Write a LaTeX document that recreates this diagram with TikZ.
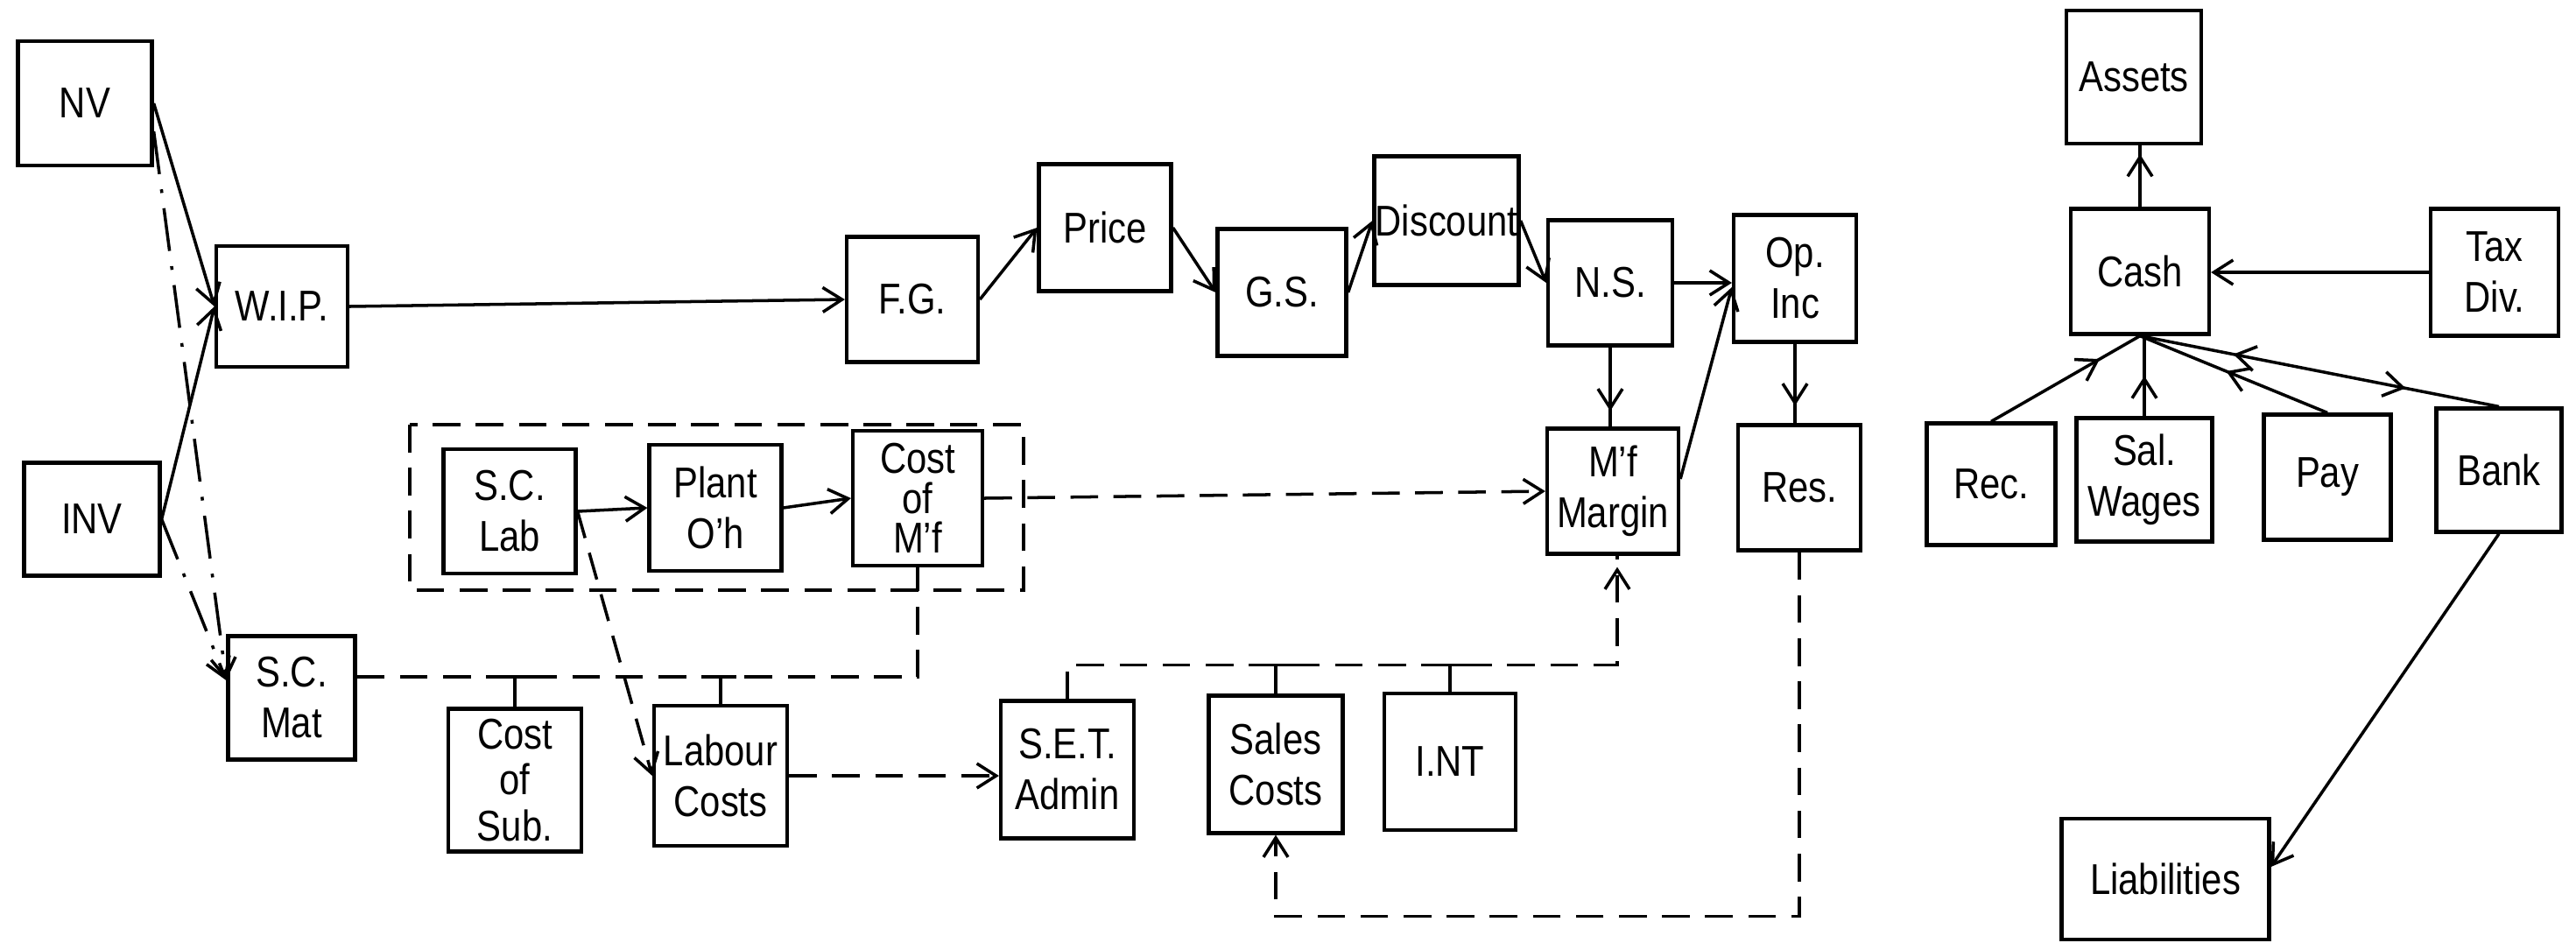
\documentclass[tikz,border=0pt]{standalone}
\usepackage{fontspec}
\setmainfont{Liberation Sans}[FakeStretch=0.85]
\usepackage{tikz}
\usetikzlibrary{arrows.meta,positioning,calc,decorations.markings}

\begin{document}
\begin{tikzpicture}[
    box/.style={draw, line width=1.2pt, minimum width=1.5cm, minimum height=1.43cm, align=center, inner sep=0pt, font=\fontsize{14}{16.5}\selectfont},
    arr/.style={line width=1pt, -{Straight Barb[length=2.2mm, width=2.8mm]}},
    midarr/.style={line width=1pt, postaction={decorate, decoration={markings, mark=at position #1 with {\arrow{Straight Barb[length=2.2mm, width=2.8mm]}}}}},
    backarr/.style={postaction={decorate, decoration={markings, mark=at position #1 with {\arrowreversed{Straight Barb[length=2.2mm, width=2.8mm]}}}}},
    dsh/.style={line width=1pt, dash pattern=on 9pt off 5pt},
    dshdot/.style={line width=1pt, dash pattern=on 14pt off 5pt on 1.2pt off 5pt},
    tee/.style={line width=1pt},
]
    \useasboundingbox (0,0) rectangle (29.42,-10.76);

    % Inputs
    \node[box, minimum width=1.53cm, minimum height=1.42cm] (nv) at (0.97,-1.18) {NV};
    \node[box, minimum height=1.38cm] (wip) at (3.22,-3.50) {W.I.P.};
    \node[box, minimum width=1.55cm, minimum height=1.29cm] (inv) at (1.05,-5.93) {INV};
    \node[box, minimum width=1.45cm, minimum height=1.41cm] (scmat) at (3.33,-7.97) {S.C.\\Mat};

    % Manufacturing group
    \node[box, minimum width=1.51cm, minimum height=1.42cm] (sclab) at (5.82,-5.84) {S.C.\\Lab};
    \node[box, minimum width=1.51cm, minimum height=1.44cm] (plant) at (8.17,-5.80) {Plant\\O'h};
    \node[box, minimum width=1.48cm, minimum height=1.54cm, font=\fontsize{14}{13}\selectfont] (costmf) at (10.48,-5.69) {Cost\\of\\M'f};
    \draw[dsh] (4.68,-4.85) rectangle (11.69,-6.74);

    \node[box, minimum width=1.52cm, minimum height=1.63cm, font=\fontsize{14}{15}\selectfont] (costsub) at (5.88,-8.91) {Cost\\of\\Sub.};
    \node[box, minimum width=1.52cm, minimum height=1.60cm] (labour) at (8.23,-8.86) {Labour\\Costs};

    % Sales chain
    \node[box] (fg) at (10.42,-3.42) {F.G.};
    \node[box, minimum width=1.51cm, minimum height=1.45cm] (price) at (12.62,-2.60) {Price};
    \node[box, minimum width=1.47cm, minimum height=1.45cm] (gs) at (14.64,-3.34) {G.S.};
    \node[box, minimum width=1.65cm, minimum height=1.47cm] (discount) at (16.52,-2.52) {Discount};
    \node[box, minimum width=1.42cm] (ns) at (18.39,-3.23) {N.S.};
    \node[box, minimum width=1.40cm, minimum height=1.45cm] (opinc) at (20.50,-3.18) {Op.\\Inc};
    \node[box] (mfmargin) at (18.42,-5.61) {M'f\\Margin};
    \node[box, minimum width=1.40cm] (res) at (20.55,-5.57) {Res.};

    % Overheads
    \node[box, minimum width=1.52cm, minimum height=1.57cm] (setadmin) at (12.19,-8.79) {S.E.T.\\Admin};
    \node[box, minimum width=1.53cm, minimum height=1.57cm] (sales) at (14.57,-8.73) {Sales\\Costs};
    \node[box, minimum height=1.56cm] (int) at (16.56,-8.70) {I.NT};

    % Cash side
    \node[box, minimum width=1.54cm, minimum height=1.52cm] (assets) at (24.37,-0.88) {Assets};
    \node[box, minimum width=1.58cm] (cash) at (24.44,-3.10) {Cash};
    \node[box, minimum width=1.46cm, minimum height=1.45cm] (taxdiv) at (28.49,-3.11) {Tax\\Div.};
    \node[box, minimum width=1.47cm, minimum height=1.39cm] (rec) at (22.74,-5.53) {Rec.};
    \node[box, minimum width=1.55cm, minimum height=1.41cm] (salwages) at (24.49,-5.48) {Sal.\\Wages};
    \node[box, minimum width=1.45cm] (pay) at (26.58,-5.45) {Pay};
    \node[box, minimum width=1.43cm, minimum height=1.41cm] (bank) at (28.54,-5.37) {Bank};
    \node[box, minimum width=2.37cm, minimum height=1.38cm] (liab) at (24.73,-10.04) {Liabilities};

    % Arrows
    \draw[arr] (nv.east) -- (wip.west);
    \draw[arr] (inv.east) -- (wip.west);
    \draw[dshdot, arr] ([yshift=-0.32cm]nv.east) -- ([yshift=0.2cm]scmat.west);
    \draw[dshdot, arr] (inv.east) -- ([yshift=0.2cm]scmat.west);
    \draw[arr] (wip.east) -- (fg.west);
    \draw[arr] (fg.east) -- (price.west);
    \draw[arr] (price.east) -- (gs.west);
    \draw[arr] (gs.east) -- (discount.west);
    \draw[arr] (discount.east) -- (ns.west);
    \draw[arr] (ns.east) -- (ns.east -| opinc.west);
    \draw[midarr=-0.18cm] (ns.south) -- (ns.south |- mfmargin.north);
    \draw[arr] ([yshift=0.14cm]mfmargin.east) -- ([yshift=-0.1cm]opinc.west);
    \draw[midarr=-0.2cm] (opinc.south) -- (opinc.south |- res.north);
    \draw[arr] (sclab.east) -- (plant.west);
    \draw[arr] (plant.east) -- (costmf.west);
    \draw[dsh, arr] (costmf.east) -- (mfmargin.west);
    \draw[dsh, arr] (sclab.east) -- (labour.west);

    % Cost line
    \coordinate (busa) at ([yshift=0.24cm]scmat.east);
    \draw[dsh] (busa) -| (costmf.south);
    \draw[tee] (costsub.north) -- (costsub.north |- busa) +(-0.18,0) -- +(0.18,0);
    \draw[tee] (labour.north) -- (labour.north |- busa) +(-0.18,0) -- +(0.18,0);
    \draw[dsh, arr] (labour.east) -- (labour.east -| setadmin.west);

    % Expense line
    \coordinate (busb) at ([xshift=0.05cm, yshift=-1.25cm]mfmargin.south);
    \draw[dsh, midarr=-0.13cm] (setadmin.north) |- (busb) -- (busb |- mfmargin.south);
    \draw[tee] (sales.north) -- (sales.north |- busb) +(-0.18,0) -- +(0.18,0);
    \draw[tee] (int.north) -- (int.north |- busb) +(-0.18,0) -- +(0.18,0);

    % Reserves back to sales
    \coordinate (ret) at ([yshift=-0.93cm]sales.south);
    \draw[dsh, arr] (res.south) |- (ret) -- (sales.south);

    % Cash flows
    \draw[midarr=-0.1cm] (cash.north) -- (cash.north |- assets.south);
    \draw[arr] (taxdiv.west) -- (taxdiv.west -| cash.east);
    \draw[midarr=0.73] (rec.north) -- (cash.south);
    \draw[midarr=0.5] (salwages.north) -- (salwages.north |- cash.south);
    \draw[midarr=0.54] (pay.north) -- (cash.south);
    \draw[midarr=0.74, backarr=0.26] (bank.north) -- (cash.south);
    \draw[arr] (bank.south) -- ([yshift=0.14cm]liab.east);
\end{tikzpicture}
\end{document}
